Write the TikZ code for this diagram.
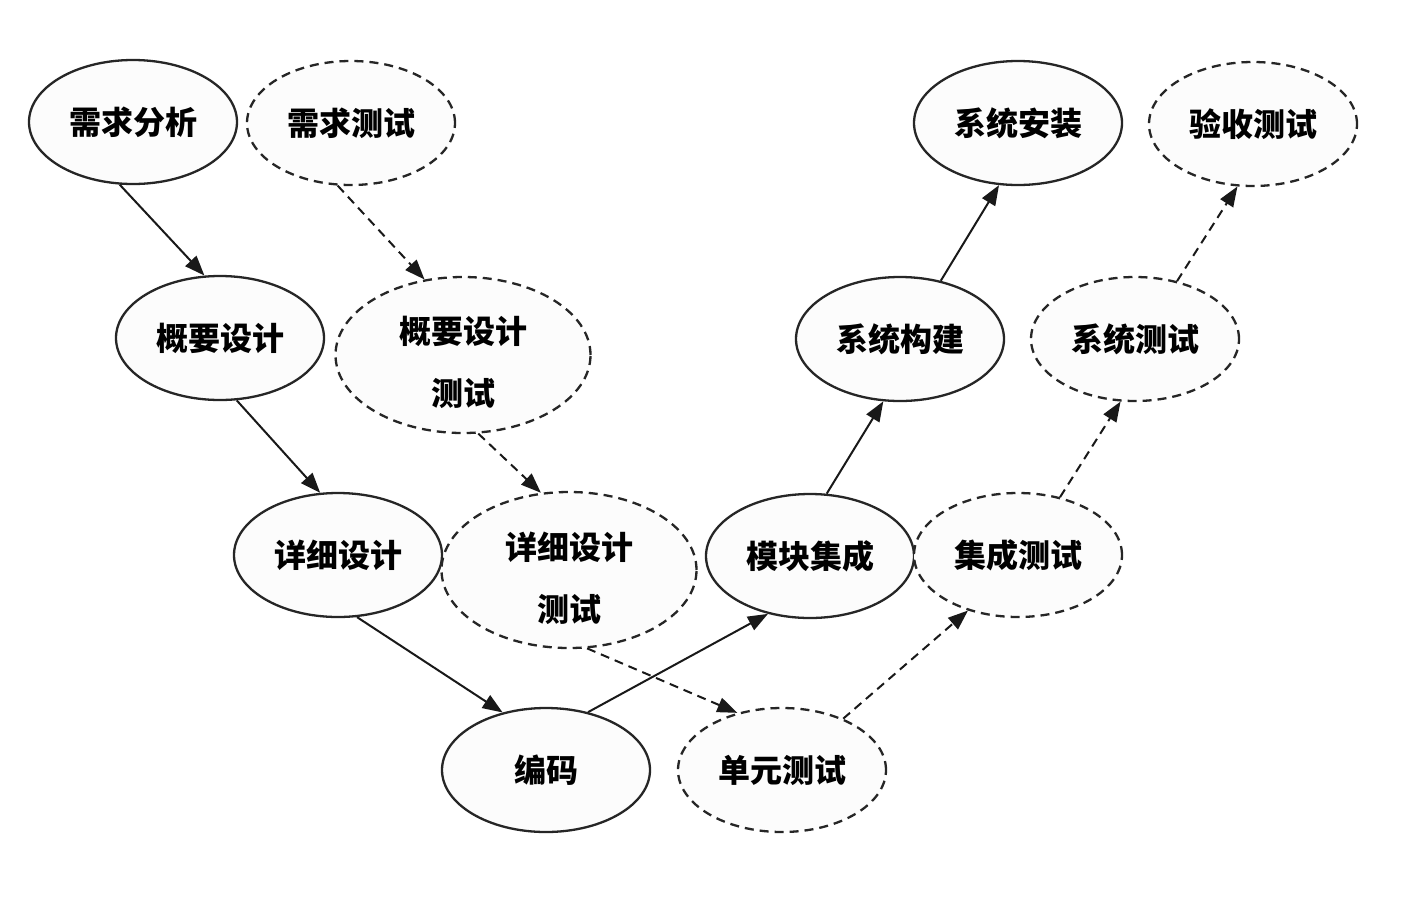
\documentclass[tikz,border=0pt]{standalone}
\usepackage{fontspec}
\setmainfont{Noto Sans CJK SC}
\usetikzlibrary{shapes.geometric,arrows.meta}
\begin{document}
\begin{tikzpicture}[x=1pt,y=-1pt,
  txt/.style={font=\fontsize{32}{62}\selectfont\bfseries,align=center,inner sep=0pt},
  box/.style={ellipse,draw=black!85,line width=2.3pt,fill=black!1,
    minimum width=208pt,minimum height=124pt,inner sep=0pt,txt},
  bigbox/.style={box,minimum width=255pt,minimum height=156pt},
  dashline/.style={dash pattern=on 9pt off 6pt},
  conn/.style={line width=2pt,draw=black!90,-{Triangle[length=20pt,width=15pt]}},
  dconn/.style={conn,dashline}
]
\useasboundingbox (0,0) rectangle (1418,898);
% development (solid)
\node[box] (A) at (133,122) {需求分析};
\node[box] (C) at (220,338) {概要设计};
\node[box] (E) at (338,555) {详细设计};
\node[box] (G) at (546,770) {编码};
\node[box] (I) at (810,556) {模块集成};
\node[box] (K) at (900,339) {系统构建};
\node[box] (M) at (1018,123) {系统安装};
% tests (dashed)
\node[box,dashline] (B) at (351,123) {需求测试};
\node[bigbox,dashline] (D) at (463,355) {};
\node[txt] (Dt) at ([yshift=-7pt]D.center) {概要设计\\测试};
\node[bigbox,dashline] (F) at (569,570) {};
\node[txt] (Ft) at ([yshift=-8pt]F.center) {详细设计\\测试};
\node[box,dashline] (H) at (782,770) {单元测试};
\node[box,dashline] (J) at (1018,555) {集成测试};
\node[box,dashline] (L) at (1135,339) {系统测试};
\node[box,dashline] (N) at (1253,124) {验收测试};
% connectors
\draw[conn] (A.258) -- (C.104);
\draw[dconn] (B.258) -- (D.117);
\draw[conn] (C.285) -- (E.106);
\draw[dconn] (D.281) -- (F.110);
\draw[conn] (E.287) -- (G.127);
\draw[dconn] (F.283) -- (H.128);
\draw[conn] (G.54) -- (I.234);
\draw[dconn] (H.40) -- (J.228);
\draw[conn] (I.75) -- (K.255);
\draw[dconn] (J.54) -- (L.257);
\draw[conn] (K.55) -- (M.253);
\draw[dconn] (L.54) -- (N.256);
\end{tikzpicture}
\end{document}
